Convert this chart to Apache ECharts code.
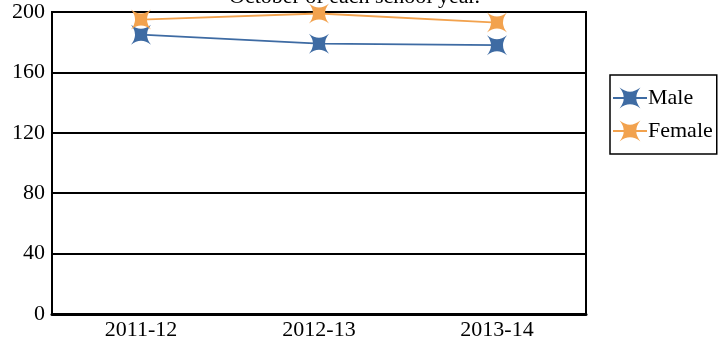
<!DOCTYPE html>
<html>
<head>
<meta charset="utf-8">
<script src="https://cdn.jsdelivr.net/npm/echarts@6/dist/echarts.min.js"></script>
<style>
  html, body { margin: 0; padding: 0; background: #fff; }
  #chart { width: 726px; height: 341px; }
</style>
</head>
<body>
<div id="chart"></div>
<script>
  // 数据
  const years = ["2011-12", "2012-13", "2013-14"];
  const maleCounts = [185, 179, 178];
  const femaleCounts = [195, 199, 193];
  const yTicks = [0, 40, 80, 120, 160, 200];

  const serif = "'Liberation Serif', 'DejaVu Serif', serif";
  // 四角星标记
  const star = "path://M-10,-10 Q0,-2 10,-10 Q2,0 10,10 Q0,2 -10,10 Q-2,0 -10,-10 Z";

  let myChart = echarts.init(document.getElementById("chart"));
  let options = {
    animation: false,
    title: {
      text: "October of each school year.",
      left: 224,
      top: -19,
      textStyle: { fontFamily: serif, fontSize: 22, fontWeight: "normal", color: "#000" },
    },
    legend: {
      orient: "vertical",
      left: 610,
      top: 75,
      padding: [12, 4, 12, 2],
      itemGap: 11,
      itemWidth: 34,
      itemHeight: 26,
      borderColor: "#000",
      borderWidth: 1.5,
      textStyle: { fontFamily: serif, fontSize: 22, color: "#000", padding: [0, 0, 0, -4] },
      data: ["Male", "Female"],
    },
    grid: {
      left: 52,
      right: 140,
      top: 12,
      bottom: 27,
      show: true,
      borderColor: "#000",
      borderWidth: 2,
    },
    xAxis: {
      type: "category",
      data: years,
      boundaryGap: true,
      axisLine: { lineStyle: { color: "#000", width: 3 } },
      axisTick: { show: false },
      axisLabel: { fontFamily: serif, fontSize: 22, color: "#000", margin: 5 },
    },
    yAxis: {
      type: "value",
      min: yTicks[0],
      max: yTicks[yTicks.length - 1],
      interval: 40,
      axisLine: { show: true, lineStyle: { color: "#000", width: 2 } },
      axisTick: { show: false },
      splitLine: { lineStyle: { color: "#000", width: 2 } },
      axisLabel: { fontFamily: serif, fontSize: 22, color: "#000", margin: 7 },
    },
    series: [
      {
        name: "Male",
        type: "line",
        data: maleCounts,
        symbol: star,
        symbolSize: 20,
        itemStyle: { color: "#3E6BA3" },
        lineStyle: { color: "#3E6BA3", width: 1.8 },
      },
      {
        name: "Female",
        type: "line",
        data: femaleCounts,
        symbol: star,
        symbolSize: 20,
        itemStyle: { color: "#F2A24E" },
        lineStyle: { color: "#F2A24E", width: 1.8 },
      },
    ],
  };
  myChart.setOption(options);
</script>
</body>
</html>
